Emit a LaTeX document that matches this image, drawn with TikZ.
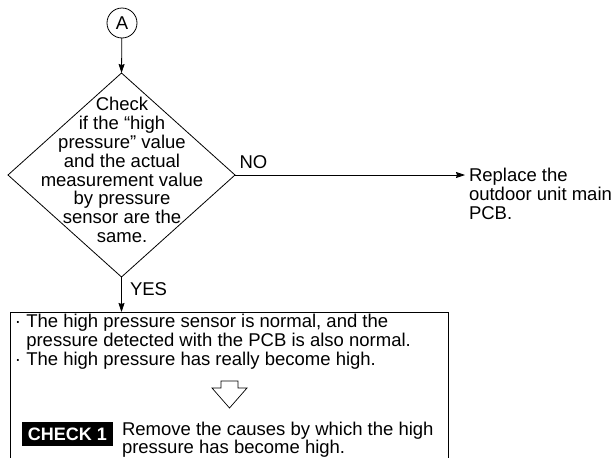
\documentclass[tikz,border=0pt]{standalone}
\usepackage{fontspec}
\setmainfont{Liberation Sans}
\usetikzlibrary{arrows.meta,shapes.geometric}
\begin{document}
\begin{tikzpicture}[x=1pt,y=-1pt,
  line width=0.8pt,
  every node/.style={font=\fontsize{18.5}{18.8}\selectfont, inner sep=0pt, outer sep=0pt},
  arr/.style={-{Stealth[length=9pt,width=6pt,inset=1pt]}},
  txt/.style={align=left, anchor=north west},
]
\useasboundingbox (0,0) rectangle (614,458);
% connector A
\node[circle,draw,minimum size=30pt] (A) at (122,23) {A};
% decision
\node[diamond,draw,minimum width=227pt,minimum height=204pt] (D) at (121.5,175) {};
\node[align=center] (Dtext) at (122,170) {Check\\if the “high\\pressure” value\\and the actual\\measurement value\\by pressure\\sensor are the\\same.};
% NO branch
\node[anchor=base] (no) at (253.5,168) {NO};
\node[txt] (R) at (469,168.5) {Replace the\\outdoor unit main\\PCB.};
\draw[arr] (A) -- (D.north);
\draw[arr] (D.east) -- ([xshift=-4pt]R.west |- D.east);
% YES branch
\node[anchor=base west] (yes) at (130,295) {YES};
\node[minimum width=438pt, minimum height=146pt, anchor=north west] (B) at (10,312) {};
\draw (B.south west) -- (B.north west) -- (B.north east) -- (B.south east);
\draw[arr] (D.south) -- (D.south |- B.north);
\node[txt] (T) at (15,314.5) {· The high pressure sensor is normal, and the\\\hphantom{·\ }pressure detected with the PCB is also normal.\\· The high pressure has really become high.};
% hollow arrow
\draw[line width=0.7pt] (221,381) -- (238,381) -- (238,388) -- (247,388) -- (229.5,408) -- (212,388) -- (221,388) -- cycle;
% check 1
\node[fill=black, text=white, font=\fontsize{18}{18.8}\selectfont\bfseries, minimum width=91pt, minimum height=24pt, anchor=north west] (C) at (22,422) {CHECK 1};
\node[txt, font=\fontsize{18.5}{17.5}\selectfont] (Rm) at (122,422.5) {Remove the causes by which the high\\pressure has become high.};
\end{tikzpicture}
\end{document}
